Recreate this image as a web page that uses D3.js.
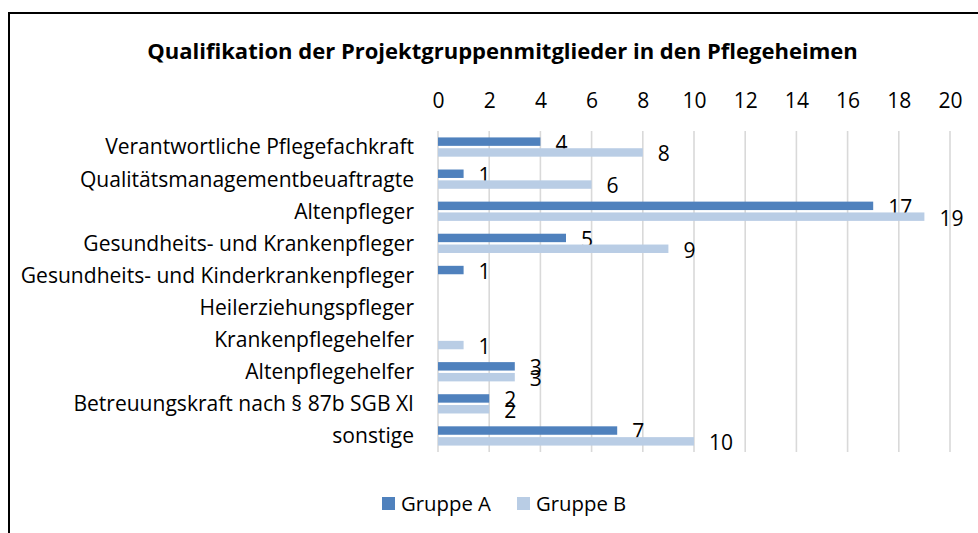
<!DOCTYPE html>
<html>
<head>
<meta charset="utf-8">
<script src="https://cdn.jsdelivr.net/npm/d3@7"></script>
<style>
  html, body { margin: 0; padding: 0; background: #fff; }
  svg { display: block; }
  text { font-family: "Open Sans", "DejaVu Sans", sans-serif; fill: #000; }
</style>
</head>
<body>
<svg id="chart" width="978" height="533"></svg>
<script>
const title = "Qualifikation der Projektgruppenmitglieder in den Pflegeheimen";
const categories = [
  "Verantwortliche Pflegefachkraft",
  "Qualitätsmanagementbeuaftragte",
  "Altenpfleger",
  "Gesundheits- und Krankenpfleger",
  "Gesundheits- und Kinderkrankenpfleger",
  "Heilerziehungspfleger",
  "Krankenpflegehelfer",
  "Altenpflegehelfer",
  "Betreuungskraft nach § 87b SGB XI",
  "sonstige"
];
const seriesNames = ["Gruppe A", "Gruppe B"];
const gruppeA = [4, 1, 17, 5, 1, null, null, 3, 2, 7];
const gruppeB = [8, 6, 19, 9, null, null, 1, 3, 2, 10];
const xTicks = [0, 2, 4, 6, 8, 10, 12, 14, 16, 18, 20];
const colors = ["#4F81BD", "#B9CDE5"];

const svg = d3.select("#chart");

// helper: find font size so that text reaches a target width
function fitSize(str, target, weight) {
  const t = svg.append("text").style("font-size", "20px")
    .style("font-weight", weight || "normal").text(str);
  const w = t.node().getComputedTextLength();
  t.remove();
  return 20 * target / w;
}
const titleSize = fitSize(title, 711, "bold");
const labelSize = fitSize(categories[0], 309);
const legendSize = fitSize(seriesNames[0], 90);
const numSize = labelSize;

// outer border
svg.append("rect")
  .attr("x", 9).attr("y", 13)
  .attr("width", 990).attr("height", 540)
  .attr("fill", "none").attr("stroke", "#000").attr("stroke-width", 2);

// title
svg.append("text")
  .attr("x", 502.5).attr("y", 59)
  .attr("text-anchor", "middle")
  .style("font-weight", "bold")
  .style("font-size", titleSize + "px")
  .text(title);

const plot = { left: 438, right: 950, top: 131, bottom: 452 };

const x = d3.scaleLinear().domain([0, 20]).range([plot.left, plot.right]);
const y = d3.scaleBand().domain(categories).range([plot.top, plot.bottom])
  .paddingInner(0.4).paddingOuter(0.2);
const ySub = d3.scaleBand().domain(seriesNames).range([0, y.bandwidth()])
  .paddingInner(0.22);

// gridlines
svg.append("g").selectAll("line").data(xTicks).join("line")
  .attr("x1", d => x(d)).attr("x2", d => x(d))
  .attr("y1", plot.top).attr("y2", plot.bottom)
  .attr("stroke", "#D9D9D9").attr("stroke-width", 1.6);

// top axis labels
const axis = d3.axisTop(x).tickValues(xTicks).tickSize(0).tickPadding(0);
const axisG = svg.append("g").attr("transform", "translate(0,108)").call(axis);
axisG.select(".domain").remove();
axisG.selectAll("text")
  .style("font-family", '"Open Sans", sans-serif')
  .style("font-size", numSize + "px").attr("fill", "#000").attr("dy", 0);

// category labels
const yAxis = d3.axisLeft(y).tickSize(0).tickPadding(0);
const yG = svg.append("g").attr("transform", `translate(${plot.left - 24},0)`).call(yAxis);
yG.select(".domain").remove();
yG.selectAll("text")
  .style("font-family", '"Open Sans", sans-serif')
  .style("font-size", labelSize + "px").attr("fill", "#000").attr("dy", "0.35em");

// bars
const series = [gruppeA, gruppeB];
series.forEach((vals, si) => {
  const name = seriesNames[si];
  const data = categories.map((c, i) => ({ c, v: vals[i] })).filter(d => d.v != null);
  svg.append("g").selectAll("rect").data(data).join("rect")
    .attr("x", x(0))
    .attr("y", d => y(d.c) + ySub(name))
    .attr("width", d => x(d.v) - x(0))
    .attr("height", ySub.bandwidth())
    .attr("fill", colors[si]);
  svg.append("g").selectAll("text").data(data).join("text")
    .attr("x", d => x(d.v) + 15)
    .attr("y", d => y(d.c) + ySub(name) + ySub.bandwidth() / 2 + 1.5)
    .attr("dy", "0.35em")
    .style("font-size", numSize + "px")
    .text(d => d.v);
});

// legend
const legendItems = [
  { name: seriesNames[0], color: colors[0], x: 382 },
  { name: seriesNames[1], color: colors[1], x: 517 }
];
const lg = svg.append("g");
legendItems.forEach(it => {
  lg.append("rect").attr("x", it.x).attr("y", 497).attr("width", 13).attr("height", 13).attr("fill", it.color);
  lg.append("text").attr("x", it.x + 19).attr("y", 503.5).attr("dy", "0.35em")
    .style("font-size", legendSize + "px").text(it.name);
});
</script>
</body>
</html>
